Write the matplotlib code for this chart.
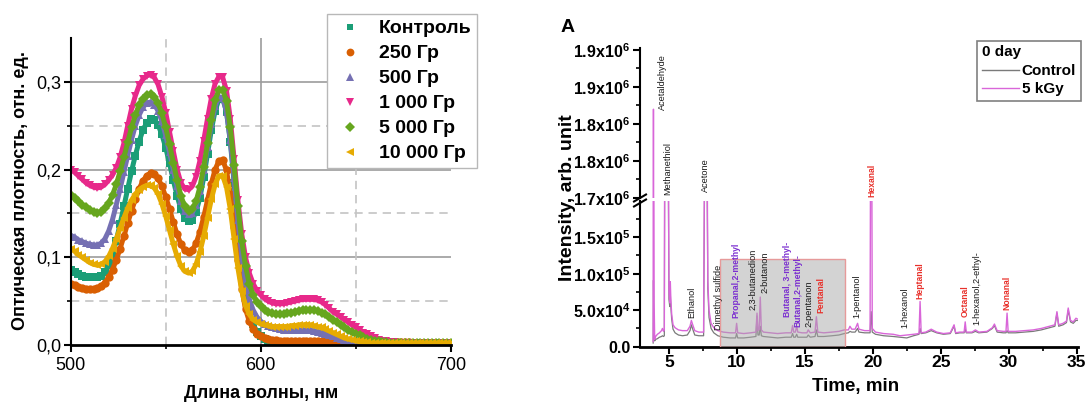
import numpy as np
import matplotlib
matplotlib.use("Agg")
import matplotlib.pyplot as plt
from matplotlib.lines import Line2D
from matplotlib.patches import Rectangle
from matplotlib.ticker import MultipleLocator, FixedLocator

plt.rcParams['font.family'] = ['Liberation Sans', 'DejaVu Sans']
plt.rcParams['mathtext.fontset'] = 'custom'
plt.rcParams['mathtext.rm'] = 'Liberation Sans:bold'
plt.rcParams['mathtext.it'] = 'Liberation Sans:bold'
plt.rcParams['mathtext.bf'] = 'Liberation Sans:bold'

# ------------------------------------------------------------------ left panel data
wavelength = list(range(500, 701, 2))

series_names = ["Контроль", "250 Гр", "500 Гр", "1 000 Гр", "5 000 Гр", "10 000 Гр"]

od_control = [
    0.085, 0.083, 0.081, 0.079, 0.078, 0.077, 0.077, 0.077, 0.079, 0.083,
    0.091, 0.103, 0.119, 0.138, 0.158, 0.178, 0.198, 0.216, 0.232, 0.245,
    0.253, 0.258, 0.257, 0.251, 0.240, 0.225, 0.207, 0.188, 0.170, 0.155,
    0.145, 0.141, 0.143, 0.152, 0.168, 0.191, 0.218, 0.245, 0.267, 0.280,
    0.281, 0.266, 0.232, 0.185, 0.135, 0.092, 0.060, 0.038, 0.024, 0.015,
    0.010, 0.007, 0.005, 0.004, 0.003, 0.003, 0.002, 0.002, 0.002, 0.002,
    0.002, 0.002, 0.002, 0.002, 0.002, 0.002, 0.002, 0.002, 0.002, 0.002,
    0.002, 0.002, 0.002, 0.002, 0.002, 0.002, 0.002, 0.002, 0.002, 0.002,
    0.002, 0.002, 0.002, 0.002, 0.002, 0.002, 0.002, 0.002, 0.002, 0.002,
    0.002, 0.002, 0.002, 0.002, 0.002, 0.002, 0.002, 0.002, 0.002, 0.002,
    0.002]
od_250 = [
    0.070, 0.068, 0.066, 0.065, 0.064, 0.064, 0.064, 0.065, 0.067, 0.071,
    0.077, 0.086, 0.097, 0.110, 0.124, 0.139, 0.153, 0.166, 0.178, 0.187,
    0.193, 0.196, 0.195, 0.190, 0.181, 0.169, 0.155, 0.140, 0.126, 0.115,
    0.108, 0.106, 0.108, 0.116, 0.129, 0.146, 0.165, 0.184, 0.200, 0.210,
    0.211, 0.199, 0.172, 0.135, 0.097, 0.064, 0.041, 0.027, 0.018, 0.013,
    0.010, 0.008, 0.007, 0.006, 0.006, 0.005, 0.005, 0.005, 0.005, 0.005,
    0.005, 0.005, 0.005, 0.004, 0.004, 0.004, 0.004, 0.004, 0.004, 0.004,
    0.004, 0.004, 0.004, 0.004, 0.003, 0.003, 0.003, 0.003, 0.003, 0.003,
    0.003, 0.003, 0.003, 0.003, 0.003, 0.003, 0.003, 0.003, 0.003, 0.003,
    0.002, 0.002, 0.002, 0.002, 0.002, 0.002, 0.002, 0.002, 0.002, 0.002,
    0.002]
od_500 = [
    0.125, 0.123, 0.120, 0.118, 0.116, 0.115, 0.114, 0.114, 0.116, 0.121,
    0.130, 0.143, 0.160, 0.178, 0.197, 0.216, 0.234, 0.250, 0.262, 0.271,
    0.276, 0.277, 0.274, 0.267, 0.255, 0.239, 0.220, 0.200, 0.181, 0.164,
    0.153, 0.149, 0.151, 0.160, 0.176, 0.199, 0.226, 0.252, 0.272, 0.283,
    0.282, 0.266, 0.234, 0.190, 0.142, 0.102, 0.072, 0.052, 0.040, 0.032,
    0.027, 0.024, 0.022, 0.020, 0.019, 0.018, 0.017, 0.017, 0.017, 0.017,
    0.017, 0.017, 0.017, 0.017, 0.016, 0.015, 0.014, 0.013, 0.011, 0.010,
    0.008, 0.007, 0.006, 0.005, 0.004, 0.003, 0.003, 0.002, 0.002, 0.002,
    0.002, 0.002, 0.002, 0.002, 0.002, 0.002, 0.002, 0.002, 0.002, 0.002,
    0.002, 0.002, 0.002, 0.002, 0.002, 0.002, 0.002, 0.002, 0.002, 0.002,
    0.002]
od_1000 = [
    0.200, 0.197, 0.193, 0.189, 0.185, 0.182, 0.180, 0.179, 0.180, 0.183,
    0.188, 0.194, 0.202, 0.214, 0.230, 0.250, 0.269, 0.284, 0.296, 0.303,
    0.307, 0.308, 0.305, 0.297, 0.283, 0.265, 0.243, 0.221, 0.200, 0.185,
    0.178, 0.177, 0.181, 0.192, 0.210, 0.233, 0.258, 0.281, 0.298, 0.306,
    0.305, 0.290, 0.258, 0.212, 0.165, 0.127, 0.100, 0.082, 0.070, 0.062,
    0.057, 0.053, 0.050, 0.048, 0.047, 0.047, 0.047, 0.048, 0.049, 0.050,
    0.051, 0.052, 0.052, 0.052, 0.052, 0.051, 0.049, 0.046, 0.042, 0.038,
    0.035, 0.032, 0.029, 0.026, 0.023, 0.020, 0.017, 0.014, 0.012, 0.010,
    0.008, 0.006, 0.005, 0.004, 0.003, 0.003, 0.002, 0.002, 0.002, 0.002,
    0.002, 0.002, 0.002, 0.002, 0.002, 0.002, 0.002, 0.002, 0.002, 0.002,
    0.002]
od_5000 = [
    0.171, 0.168, 0.164, 0.160, 0.157, 0.154, 0.152, 0.151, 0.152, 0.156,
    0.162, 0.171, 0.183, 0.198, 0.214, 0.231, 0.248, 0.262, 0.274, 0.281,
    0.285, 0.286, 0.283, 0.276, 0.264, 0.248, 0.229, 0.208, 0.188, 0.170,
    0.158, 0.153, 0.155, 0.164, 0.180, 0.203, 0.230, 0.257, 0.279, 0.291,
    0.291, 0.278, 0.248, 0.205, 0.158, 0.119, 0.090, 0.070, 0.057, 0.049,
    0.044, 0.040, 0.038, 0.036, 0.035, 0.035, 0.035, 0.036, 0.037, 0.038,
    0.039, 0.040, 0.040, 0.040, 0.040, 0.039, 0.037, 0.035, 0.032, 0.029,
    0.026, 0.023, 0.020, 0.017, 0.015, 0.013, 0.011, 0.009, 0.007, 0.006,
    0.005, 0.004, 0.003, 0.003, 0.002, 0.002, 0.002, 0.002, 0.002, 0.002,
    0.002, 0.002, 0.002, 0.002, 0.002, 0.002, 0.002, 0.002, 0.002, 0.002,
    0.002]
od_10000 = [
    0.110, 0.107, 0.103, 0.100, 0.097, 0.094, 0.092, 0.091, 0.092, 0.095,
    0.101, 0.110, 0.121, 0.133, 0.145, 0.156, 0.165, 0.172, 0.177, 0.180,
    0.182, 0.182, 0.179, 0.172, 0.161, 0.147, 0.131, 0.115, 0.101, 0.090,
    0.084, 0.082, 0.084, 0.092, 0.106, 0.124, 0.145, 0.166, 0.183, 0.193,
    0.193, 0.180, 0.155, 0.121, 0.088, 0.062, 0.045, 0.035, 0.029, 0.026,
    0.024, 0.023, 0.022, 0.021, 0.021, 0.021, 0.021, 0.021, 0.022, 0.022,
    0.023, 0.023, 0.023, 0.023, 0.022, 0.021, 0.020, 0.018, 0.016, 0.014,
    0.012, 0.010, 0.008, 0.007, 0.006, 0.005, 0.004, 0.003, 0.003, 0.002,
    0.002, 0.002, 0.002, 0.002, 0.002, 0.002, 0.002, 0.002, 0.002, 0.002,
    0.002, 0.002, 0.002, 0.002, 0.002, 0.002, 0.002, 0.002, 0.002, 0.002,
    0.002]

left_yticks = [0.0, 0.1, 0.2, 0.3]
left_yticklabels = ["0,0", "0,1", "0,2", "0,3"]
left_xticks = [500, 600, 700]

# ------------------------------------------------------------------ right panel data
time_min = [
    3.84, 3.86, 3.88, 3.91, 3.95, 4.02, 4.15, 4.30, 4.45, 4.52,
    4.60, 4.66, 4.70, 4.80, 4.92, 4.96, 5.00, 5.06, 5.10, 5.14,
    5.20, 5.30, 5.45, 5.70, 6.00, 6.35, 6.55, 6.65, 6.75, 6.90,
    7.20, 7.55, 7.66, 7.72, 7.80, 7.86, 7.95, 8.10, 8.30, 8.60,
    9.00, 9.50, 9.90, 9.98, 10.06, 10.50, 11.00, 11.40, 11.48, 11.55,
    11.64, 11.72, 11.80, 11.95, 12.50, 13.00, 13.60, 14.00, 14.10, 14.18,
    14.30, 14.40, 14.48, 14.80, 15.15, 15.25, 15.40, 15.75, 15.85, 15.95,
    16.40, 17.00, 17.50, 17.90, 18.20, 18.32, 18.45, 18.70, 18.88, 18.98,
    19.40, 19.80, 19.88, 19.96, 20.20, 20.80, 21.50, 22.00, 22.50, 23.00,
    23.40, 23.48, 23.56, 23.90, 24.30, 24.70, 25.20, 25.70, 25.98, 26.10,
    26.40, 26.72, 26.80, 26.88, 27.30, 27.55, 27.80, 28.40, 28.80, 28.95,
    29.15, 29.60, 29.80, 29.88, 29.96, 30.50, 31.20, 31.80, 32.40, 33.00,
    33.40, 33.55, 33.68, 34.00, 34.25, 34.38, 34.55, 34.75, 34.95, 35.05]
intensity_5kgy = [
    7e3, 1.82e6, 3.5e5, 6.0e4, 1.0e4, 1.4e4, 1.7e4, 1.9e4, 2.2e4, 2.5e4,
    2.1e4, 2.3e4, 4.0e5, 5.0e5, 5.0e5, 2.5e5, 7.5e4, 6.0e4, 8.9e4, 6.5e4,
    4.5e4, 3.0e4, 2.6e4, 2.3e4, 2.2e4, 2.2e4, 2.8e4, 3.6e4, 3.0e4, 2.2e4,
    2.0e4, 2.0e4, 4.0e5, 5.0e5, 3.0e5, 9.0e4, 5.0e4, 3.2e4, 2.6e4, 2.2e4,
    2.0e4, 1.9e4, 1.9e4, 3.2e4, 1.9e4, 1.8e4, 1.9e4, 2.0e4, 4.6e4, 2.2e4,
    2.4e4, 6.8e4, 2.3e4, 2.0e4, 1.9e4, 1.8e4, 1.9e4, 1.9e4, 2.9e4, 2.0e4,
    2.0e4, 2.8e4, 2.0e4, 1.9e4, 1.9e4, 2.3e4, 1.9e4, 2.0e4, 4.1e4, 2.0e4,
    1.9e4, 2.0e4, 2.1e4, 2.3e4, 2.3e4, 2.8e4, 2.4e4, 2.4e4, 3.2e4, 2.4e4,
    2.2e4, 2.2e4, 6.0e5, 2.5e4, 2.0e4, 1.8e4, 1.7e4, 1.5e4, 1.6e4, 1.7e4,
    1.8e4, 6.2e4, 1.9e4, 2.0e4, 2.4e4, 2.0e4, 1.8e4, 1.9e4, 3.0e4, 1.9e4,
    2.0e4, 2.0e4, 3.4e4, 2.0e4, 2.0e4, 2.3e4, 2.0e4, 2.1e4, 2.6e4, 3.1e4,
    2.2e4, 2.1e4, 2.1e4, 4.6e4, 2.1e4, 2.1e4, 2.2e4, 2.3e4, 2.5e4, 2.8e4,
    3.0e4, 4.8e4, 3.0e4, 3.2e4, 3.5e4, 5.3e4, 3.6e4, 3.4e4, 3.9e4, 3.8e4]
intensity_control = [
    5e3, 9.1e4, 4.0e4, 1.5e4, 8e3, 1.0e4, 1.1e4, 1.3e4, 1.4e4, 1.5e4,
    1.4e4, 1.5e4, 3.5e5, 4.5e5, 4.5e5, 2.2e5, 6.5e4, 5.5e4, 7.2e4, 5.5e4,
    3.8e4, 2.4e4, 1.9e4, 1.6e4, 1.5e4, 1.6e4, 2.2e4, 3.0e4, 2.4e4, 1.6e4,
    1.5e4, 1.5e4, 3.5e5, 4.5e5, 2.6e5, 8.0e4, 4.0e4, 2.5e4, 1.9e4, 1.5e4,
    1.3e4, 1.2e4, 1.2e4, 1.8e4, 1.2e4, 1.2e4, 1.3e4, 1.4e4, 4.2e4, 1.6e4,
    1.6e4, 2.8e4, 1.5e4, 1.4e4, 1.3e4, 1.2e4, 1.3e4, 1.3e4, 1.8e4, 1.3e4,
    1.3e4, 1.7e4, 1.3e4, 1.3e4, 1.3e4, 1.6e4, 1.3e4, 1.4e4, 2.3e4, 1.4e4,
    1.4e4, 1.5e4, 1.6e4, 1.8e4, 1.9e4, 2.1e4, 2.0e4, 2.0e4, 2.5e4, 2.0e4,
    1.9e4, 1.9e4, 4.8e4, 2.0e4, 1.7e4, 1.5e4, 1.4e4, 1.3e4, 1.2e4, 1.5e4,
    1.7e4, 2.5e4, 1.8e4, 1.9e4, 2.2e4, 1.9e4, 1.7e4, 1.8e4, 2.8e4, 1.8e4,
    1.9e4, 1.9e4, 2.4e4, 1.9e4, 1.9e4, 2.1e4, 1.9e4, 2.0e4, 2.5e4, 2.9e4,
    2.0e4, 1.9e4, 1.9e4, 2.2e4, 1.9e4, 1.9e4, 2.0e4, 2.1e4, 2.3e4, 2.6e4,
    2.8e4, 4.6e4, 2.8e4, 3.0e4, 3.3e4, 5.0e4, 3.4e4, 3.2e4, 3.6e4, 3.6e4]

peak_names = ["Acetaldehyde", "Methanethiol", "Ethanol", "Acetone", "Dimethyl sulfide",
              "Propanal,2-methyl", "2,3-butanedion", "2-butanon", "Butanal, 3-methyl-",
              "Butanal,2-methyl-", "2-pentanon", "Pentanal", "1-pentanol", "Hexanal",
              "1-hexanol", "Heptanal", "Octanal", "1-hexanol,2-ethyl-", "Nonanal"]
peak_label_time = [4.52, 4.94, 6.70, 7.68, 8.63, 9.95, 11.19, 12.06, 13.72,
                   14.48, 15.30, 16.19, 18.86, 19.90, 22.35, 23.43, 26.83, 27.66, 29.86]
peak_label_base = [1.819e6, 1.704e6, 3.9e4, 1.708e6, 2.3e4, 3.9e4, 5.0e4, 7.3e4, 4.1e4,
                   2.7e4, 2.7e4, 4.6e4, 3.9e4, 1.702e6, 2.5e4, 6.6e4, 4.1e4, 3.0e4, 5.0e4]
peak_group = ["other", "other", "other", "other", "other", "branched", "other", "other",
              "branched", "branched", "other", "aldehyde", "other", "aldehyde", "other",
              "aldehyde", "aldehyde", "other", "aldehyde"]

lower_yticks = [0, 5e4, 1e5, 1.5e5]
lower_yticklabels = ["0.0", "5.0x10$^{4}$", "1.0x10$^{5}$", "1.5x10$^{5}$"]
upper_yticks = [1.70e6, 1.75e6, 1.80e6, 1.85e6, 1.90e6]
upper_yticklabels = ["1.7x10$^{6}$", "1.8x10$^{6}$", "1.8x10$^{6}$", "1.9x10$^{6}$", "1.9x10$^{6}$"]
time_ticks = [5, 10, 15, 20, 25, 30, 35]
box_start, box_end, box_top = 8.74, 17.94, 1.2e5

# ------------------------------------------------------------------ figure
W, H = 1089, 405
fig = plt.figure(figsize=(W / 100, H / 100), dpi=100)


def fx(px):
    return px / W


def fy(py):
    return 1 - py / H


# ---------------- left panel
ax1 = fig.add_axes([fx(70.7), fy(345), 380 / W, 307 / H])
colors = ['#1b9e77', '#d95f02', '#7570b3', '#e7298a', '#66a61e', '#e6ab02']
markers = ['s', 'o', '^', 'v', 'D', '<']
msizes = [5.4, 6.0, 6.4, 6.4, 5.4, 6.4]
all_od = [od_control, od_250, od_500, od_1000, od_5000, od_10000]

for yv in [0.1, 0.2, 0.3]:
    ax1.axhline(yv, color='#9c9c9c', lw=1.2, zorder=0)
for yv in [0.05, 0.15, 0.25]:
    ax1.axhline(yv, color='#c4c4c4', lw=1.2, ls=(0, (5, 3.5)), zorder=0)
ax1.axvline(600, color='#9c9c9c', lw=1.2, zorder=0)
for xv in [550, 650]:
    ax1.axvline(xv, color='#c4c4c4', lw=1.2, ls=(0, (5, 3.5)), zorder=0)

handles = []
for name, od, c, m, ms in zip(series_names, all_od, colors, markers, msizes):
    ax1.plot(wavelength, od, ls='-', lw=3.6, marker=m, ms=ms, color=c,
             markeredgewidth=0, zorder=2, solid_joinstyle='round',
             solid_capstyle='round')
    handles.append(Line2D([], [], ls='none', marker=m, ms=ms - 0.4, color=c,
                          markeredgewidth=0, label=name))

ax1.set_xlim(500, 700)
ax1.set_ylim(0, 0.35)
ax1.set_xticks(left_xticks)
ax1.set_xticklabels([str(v) for v in left_xticks], fontsize=13)
ax1.set_yticks(left_yticks)
ax1.set_yticklabels(left_yticklabels, fontsize=13)
ax1.xaxis.set_minor_locator(FixedLocator([550, 650]))
ax1.yaxis.set_minor_locator(FixedLocator([0.05, 0.15, 0.25]))
ax1.tick_params(which='major', direction='out', length=5, width=1.5, color='black')
ax1.tick_params(which='minor', direction='out', length=3, width=1.2, color='black')
ax1.tick_params(axis='x', pad=3.5)
ax1.tick_params(axis='y', pad=2)
for s in ['top', 'right']:
    ax1.spines[s].set_visible(False)
ax1.spines['left'].set_linewidth(1.5)
ax1.spines['bottom'].set_linewidth(2.0)
ax1.spines['bottom'].set_zorder(3)

leg1 = ax1.legend(handles=handles, loc='upper left', bbox_to_anchor=(fx(327), fy(14)),
                  bbox_transform=fig.transFigure, borderaxespad=0, frameon=True,
                  fancybox=False, edgecolor='#b8b8b8', framealpha=1,
                  prop={'weight': 'bold', 'size': 14}, handlelength=1.75,
                  handletextpad=0.6, borderpad=0.3, labelspacing=0.38)
leg1.get_frame().set_linewidth(1.0)
leg1.set_zorder(10)

fig.text(fx(20.7), fy(190.5), "Оптическая плотность, отн. ед.", rotation=90,
         ha='center', va='center', fontsize=13, weight='bold')
fig.text(fx(260.8), fy(394), "Длина волны, нм", ha='center', va='center',
         fontsize=13, weight='bold')

# ---------------- right panel (broken y axis)
axl = fig.add_axes([fx(640), fy(346.7), 438 / W, 145.7 / H])
axu = fig.add_axes([fx(640), fy(198), 438 / W, 150 / H])

pink = '#d966d9'
grey = '#7a7a7a'
for ax in (axl, axu):
    ax.plot(time_min, intensity_control, color=grey, lw=0.9, zorder=2)
    ax.plot(time_min, intensity_5kgy, color=pink, lw=1.0, zorder=2.1)
    ax.set_xlim(2.87, 35.1)
    ax.set_facecolor('none')

axl.set_ylim(0, 1.996e5)
axu.set_ylim(1.7e6, 1.9027e6)

axl.add_patch(Rectangle((box_start, 0), box_end - box_start, box_top,
                        facecolor=(0.66, 0.66, 0.66, 0.5), edgecolor='#e69a9a',
                        lw=1.0, zorder=3))

label_colors = {"other": '#1a1a1a', "branched": '#7b2fd0', "aldehyde": '#e8302a'}
for name, t, b, g in zip(peak_names, peak_label_time, peak_label_base, peak_group):
    target = axu if b > 1e6 else axl
    bold = g != "other"
    target.text(t, b, name, rotation=90, ha='center', va='bottom',
                fontsize=6.2 if bold else 6.6, weight='bold' if bold else 'normal',
                color=label_colors[g], zorder=5, clip_on=False)

axl.set_xticks(time_ticks)
axl.set_xticklabels([str(v) for v in time_ticks], fontsize=12.5, weight='bold')
axl.xaxis.set_minor_locator(MultipleLocator(2.5))
axl.set_yticks(lower_yticks)
axl.set_yticklabels(lower_yticklabels, fontsize=11.5, weight='bold')
axl.yaxis.set_minor_locator(MultipleLocator(2.5e4))
axu.set_yticks(upper_yticks)
axu.set_yticklabels(upper_yticklabels, fontsize=11.5, weight='bold')
axu.yaxis.set_minor_locator(MultipleLocator(2.5e4))
axu.set_xticks([])
axu.tick_params(axis='x', which='both', bottom=False, labelbottom=False)

for ax in (axl, axu):
    ax.tick_params(which='major', direction='out', length=5, width=1.5, color='black')
    ax.tick_params(which='minor', direction='out', length=3, width=1.2, color='black')
    ax.tick_params(axis='y', pad=2)
    ax.spines['top'].set_visible(False)
    ax.spines['right'].set_visible(False)
    ax.spines['left'].set_linewidth(1.5)
axl.tick_params(axis='x', pad=1)
axl.spines['bottom'].set_linewidth(2.0)
axu.spines['bottom'].set_visible(False)

# break marks on the left spine
for y0 in (201.5, 206.5):
    fig.add_artist(Line2D([fx(634), fx(646)], [fy(y0), fy(y0 - 7)], color='black',
                          lw=1.5, transform=fig.transFigure))

leg2 = axl.legend(handles=[Line2D([], [], color=grey, lw=1.0),
                           Line2D([], [], color=pink, lw=1.0)],
                  labels=["Control", "5 kGy"], title="0 day", alignment='left',
                  loc='upper left', bbox_to_anchor=(fx(977.3), fy(40.7)),
                  bbox_transform=fig.transFigure, borderaxespad=0, frameon=True,
                  fancybox=False, edgecolor='#808080', framealpha=1,
                  prop={'weight': 'bold', 'size': 11},
                  title_fontproperties={'weight': 'bold', 'size': 11},
                  handlelength=2.4, handletextpad=0.2, borderpad=0.3,
                  labelspacing=0.3)
leg2.get_frame().set_linewidth(1.2)

fig.text(fx(567), fy(197.5), "Intensity, arb. unit", rotation=90, ha='center',
         va='center', fontsize=14, weight='bold')
fig.text(fx(856), fy(386.7), "Time, min", ha='center', va='center', fontsize=13.5,
         weight='bold')
fig.text(fx(568), fy(28), "A", ha='center', va='center', fontsize=14, weight='bold')

fig.savefig("out.png", dpi=100)
